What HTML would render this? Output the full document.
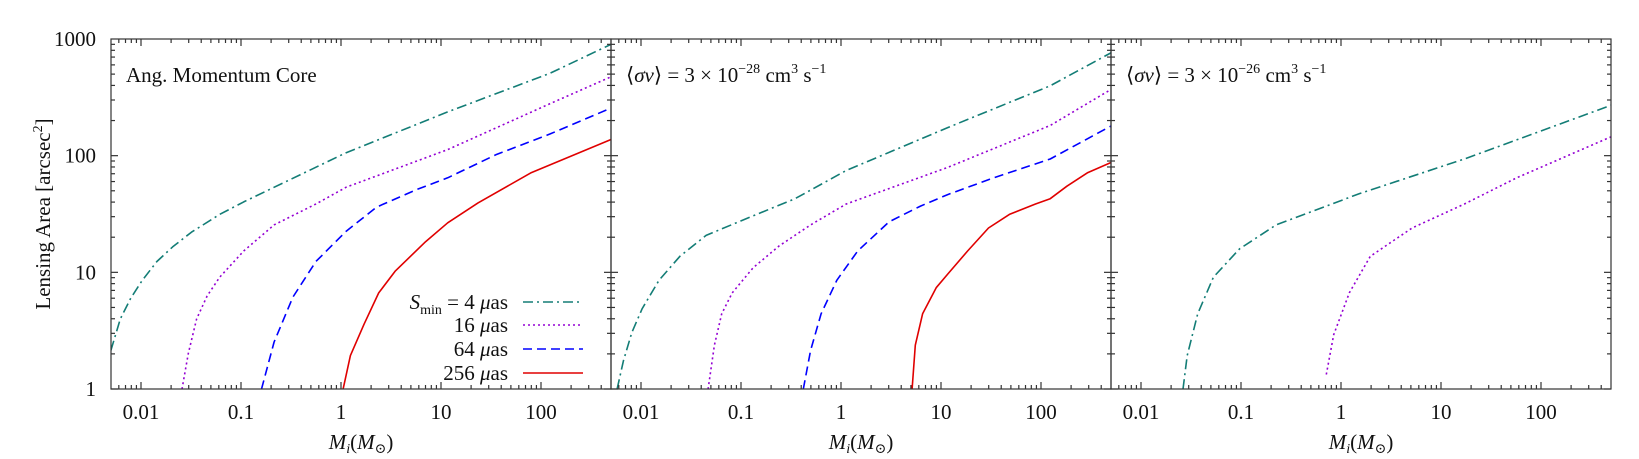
<!DOCTYPE html>
<html><head><meta charset="utf-8">
<style>
html,body{margin:0;padding:0;background:#fff;}
svg{display:block;font-family:"Liberation Serif","DejaVu Serif",serif;}
</style></head>
<body>
<svg id="s" width="1639" height="459" viewBox="0 0 1639 459" xmlns="http://www.w3.org/2000/svg">
<g id="curves" fill="none" stroke-width="1.6" stroke-linejoin="round"></g>
<g id="axes" stroke="#333" stroke-width="1.2" fill="none"></g>
<g id="labels" font-size="21" fill="#111"></g>
<text x="126" y="82" font-size="21" fill="#111">Ang. Momentum Core</text>
<text x="626" y="82" font-size="21" fill="#111">⟨<tspan font-style="italic">σv</tspan>⟩ = 3 × 10<tspan font-size="14" dy="-9">−28</tspan><tspan dy="9"> cm</tspan><tspan font-size="14" dy="-9">3</tspan><tspan dy="9"> s</tspan><tspan font-size="14" dy="-9">−1</tspan></text>
<text x="1126" y="82" font-size="21" fill="#111">⟨<tspan font-style="italic">σv</tspan>⟩ = 3 × 10<tspan font-size="14" dy="-9">−26</tspan><tspan dy="9"> cm</tspan><tspan font-size="14" dy="-9">3</tspan><tspan dy="9"> s</tspan><tspan font-size="14" dy="-9">−1</tspan></text>
<text transform="translate(50,214) rotate(-90)" text-anchor="middle" font-size="21" fill="#111">Lensing Area [arcsec<tspan font-size="14" dy="-8">2</tspan><tspan dy="8">]</tspan></text>
<g font-size="21" fill="#111" text-anchor="end">
<text x="508" y="309"><tspan font-style="italic">S</tspan><tspan font-size="14" dy="5">min</tspan><tspan dy="-5"> = 4 </tspan><tspan font-style="italic">μ</tspan>as</text>
<text x="508" y="332">16 <tspan font-style="italic">μ</tspan>as</text>
<text x="508" y="356">64 <tspan font-style="italic">μ</tspan>as</text>
<text x="508" y="380">256 <tspan font-style="italic">μ</tspan>as</text>
</g>
<g fill="none" stroke-width="1.6">
<line x1="523" y1="302" x2="583" y2="302" stroke="#137d76" stroke-dasharray="10,4,2,4"/>
<line x1="523" y1="325" x2="583" y2="325" stroke="#9400d3" stroke-dasharray="2,3"/>
<line x1="523" y1="349" x2="583" y2="349" stroke="#0000ff" stroke-dasharray="9,5"/>
<line x1="523" y1="373" x2="583" y2="373" stroke="#e00000"/>
</g>
</svg>
<script>
var NS="http://www.w3.org/2000/svg";
function el(p,t,a){var e=document.createElementNS(NS,t);for(var k in a)e.setAttribute(k,a[k]);p.appendChild(e);return e;}
var cur=document.getElementById('curves'),ax=document.getElementById('axes'),lb=document.getElementById('labels');
var T=39,B=389;
var defs=el(document.getElementById('s'),'defs',{});
var P0=[111,611,1111];
P0.forEach(function(x0,i){var c=el(defs,'clipPath',{id:'c'+i});el(c,'rect',{x:x0,y:T,width:500,height:B-T});});
function cv(pts){return pts.map(function(p){return [p[0]*1.046,p[1]*1.046];});}
var styles={t:{stroke:"#137d76","stroke-dasharray":"10,4,2,4"},p:{stroke:"#9400d3","stroke-dasharray":"2,3"},b:{stroke:"#0000ff","stroke-dasharray":"9,5"},r:{stroke:"#e00000"}};
function line(pts,s,ci){var a={points:pts.map(function(p){return p[0].toFixed(1)+","+p[1].toFixed(1);}).join(" "),"clip-path":"url(#c"+ci+")"};for(var k in styles[s])a[k]=styles[s][k];el(cur,'polyline',a);}
line(cv([[106,335],[115,305],[125,285],[136,268],[150,250],[165,236],[183,222],[210,205],[233,193],[260,180],[331,146],[428,107],[526,70],[585,42]]),'t',0);
line(cv([[174,372],[180,338],[188,305],[198,283],[210,265],[233,240],[262,215],[302,195],[331,179],[428,143],[526,99],[585,73]]),'p',0);
line(cv([[250,372],[262,327],[280,284],[302,250],[331,221],[360,198],[399,181],[428,170],[474,148],[526,128],[585,103]]),'b',0);
line(cv([[328,372],[335,340],[348,310],[362,280],[378,259],[407,231],[428,213],[457,194],[508,165],[585,133]]),'r',0);
line(cv([[590,372],[596,345],[604,318],[614,295],[630,268],[650,245],[675,225],[711,210],[760,190],[809,163],[906,122],[1004,82],[1063,50]]),'t',1);
line(cv([[677,372],[683,330],[690,300],[700,280],[720,256],[745,235],[775,215],[809,195],[906,160],[1004,120],[1063,85]]),'p',1);
line(cv([[768,372],[775,335],[785,300],[800,268],[820,240],[850,212],[880,197],[906,186],[950,170],[1004,152],[1063,120]]),'b',1);
line(cv([[872,372],[875,330],[882,300],[895,275],[906,262],[925,240],[945,218],[965,205],[990,195],[1004,190],[1020,178],[1040,165],[1063,155]]),'r',1);
line(cv([[1131,372],[1135,340],[1145,300],[1160,265],[1185,238],[1220,215],[1300,185],[1400,152],[1542,100]]),'t',2);
line(cv([[1268,358],[1275,320],[1290,280],[1310,245],[1350,218],[1400,195],[1450,170],[1542,130]]),'p',2);
P0.forEach(function(x0,i){
 el(ax,'rect',{x:x0,y:T,width:500,height:B-T});
 for(var d=-3;d<=2;d++){for(var m=1;m<=9;m++){var lx=d+Math.log10(m);var x=x0+(lx+2.3)*100;if(x<x0+0.5||x>x0+499.5)continue;var L=m==1?7:4;
  el(ax,'line',{x1:x,y1:B,x2:x,y2:B-L});el(ax,'line',{x1:x,y1:T,x2:x,y2:T+L});}}
 for(var d=0;d<3;d++){for(var m=1;m<=9;m++){var y=B-(d+Math.log10(m))*350/3;if(y<T+0.5)continue;var L=m==1?7:4;
  el(ax,'line',{x1:x0,y1:y,x2:x0+L,y2:y});el(ax,'line',{x1:x0+500,y1:y,x2:x0+500-L,y2:y});}}
 ["0.01","0.1","1","10","100"].forEach(function(t,k){var t2=el(lb,'text',{x:x0+30+k*100,y:419,"text-anchor":"middle"});t2.textContent=t;});
 var xl=el(lb,'text',{x:x0+250,y:449,"text-anchor":"middle"});
 xl.innerHTML='<tspan font-style="italic">M</tspan><tspan font-style="italic" font-size="14" dy="4">i</tspan><tspan dy="-4">(</tspan><tspan font-style="italic">M</tspan><tspan font-size="14" dy="4">⊙</tspan><tspan dy="-4">)</tspan>';
});
["1","10","100","1000"].forEach(function(t,k){var e=el(lb,'text',{x:96,y:B-k*350/3+7,"text-anchor":"end"});e.textContent=t;});
</script>
</body></html>
